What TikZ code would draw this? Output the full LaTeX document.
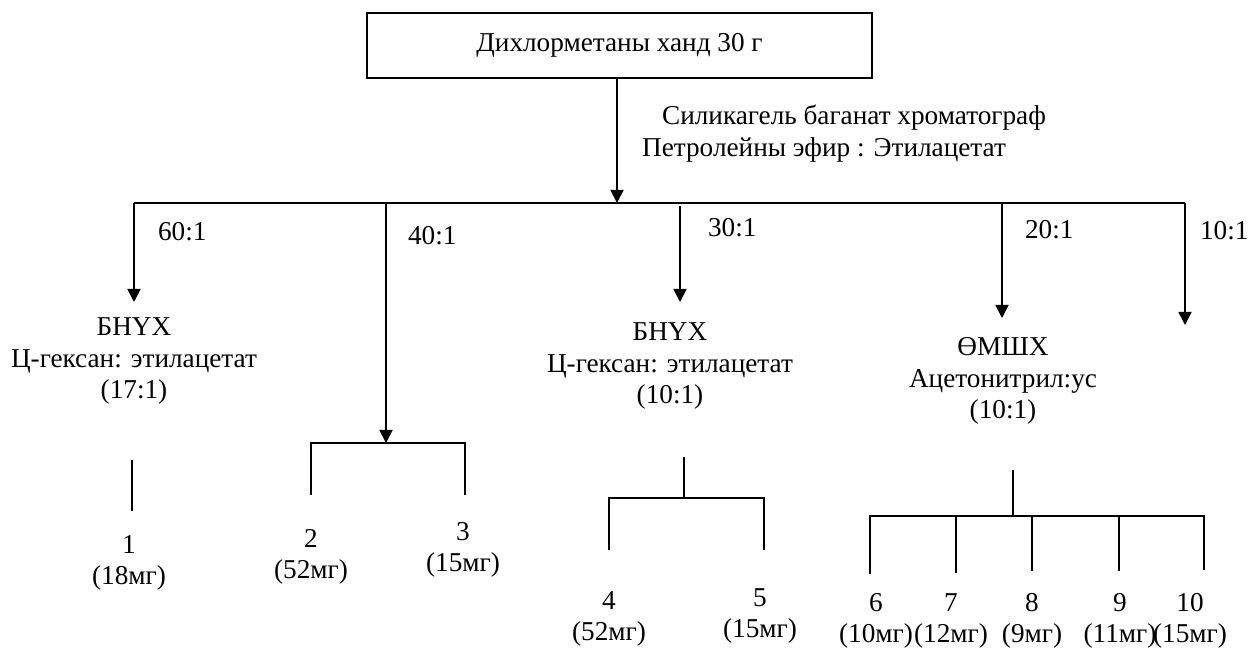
\documentclass[tikz,border=0pt]{standalone}
\usepackage{fontspec}
\setmainfont{Liberation Serif}
\usetikzlibrary{positioning, arrows.meta}

\begin{document}
\begin{tikzpicture}[x=0.02cm, y=-0.02cm,
				txt/.style={font=\fontsize{15.5}{18}\selectfont, inner sep=1pt},
				grp/.style={txt, align=center},
				box/.style={txt, draw, line width=1pt, minimum width=10.1cm, minimum height=1.3cm},
				ln/.style={draw, line width=1pt},
				arr/.style={ln, -{Triangle[width=7.5pt, length=7.5pt]}},
				]
				
				\useasboundingbox (0,0) rectangle (1251,648);
				
				%% ── Source and column ──────────────────────────────────────────────
				\node[box] (src) at (619.5,45.5) {Дихлорметаны ханд 30 г};
				\coordinate (hub) at (617,203);
				\draw[arr] (src.south -| hub) -- (hub);
				
				\node[txt, anchor=west] (col1) at (660,118) {Силикагель баганат хроматограф};
				\node[txt, anchor=west] (col2) at (640,150) {Петролейны эфир : Этилацетат};
				
				%% ── Elution branches ───────────────────────────────────────────────
				\coordinate (b1) at (134,203);
				\coordinate (b2) at (386,203);
				\coordinate (b3) at (680,206);
				\coordinate (b4) at (1002,203);
				\coordinate (b5) at (1185,203);
				\draw[ln] (b1) -- (b5);
				
				\coordinate (t1) at (134,302);
				\coordinate (k2) at (386,443);
				\coordinate (t3) at (680,302);
				\coordinate (t4) at (1002,318);
				\coordinate (t5) at (1185,325);
				
				\draw[arr] (b1) -- (t1);
				\draw[arr] (b2) -- (k2);
				\draw[arr] (b3) -- (t3);
				\draw[arr] (b4) -- (t4);
				\draw[arr] (b5) -- (t5);
				
				\node[txt, anchor=west] (r1) at (156,232)  {60:1};
				\node[txt, anchor=west] (r2) at (406,236)  {40:1};
				\node[txt, anchor=west] (r3) at (706,228)  {30:1};
				\node[txt, anchor=west] (r4) at (1023,230) {20:1};
				\node[txt, anchor=west] (r5) at (1198,231) {10:1};
				
				%% ── Second separations ─────────────────────────────────────────────
				\node[grp] (g1) at (134,361)  {БНҮХ\\Ц-гексан: этилацетат\\(17:1)};
				\node[grp] (g3) at (670,366)  {БНҮХ\\Ц-гексан: этилацетат\\(10:1)};
				\node[grp] (g4) at (1003,381) {ӨМШХ\\Ацетонитрил:ус\\(10:1)};
				
				%% ── Fractions ──────────────────────────────────────────────────────
				\node[grp] (f1)  at (129,563)  {1\\(18мг)};
				\node[grp] (f2)  at (311,557)  {2\\(52мг)};
				\node[grp] (f3)  at (463,550)  {3\\(15мг)};
				\node[grp] (f4)  at (609,619)  {4\\(52мг)};
				\node[grp] (f5)  at (760,616)  {5\\(15мг)};
				\node[grp] (f6)  at (876,621)  {6\\(10мг)};
				\node[grp] (f7)  at (951,621)  {7\\(12мг)};
				\node[grp] (f8)  at (1032,621) {8\\(9мг)};
				\node[grp] (f9)  at (1120,621) {9\\(11мг)};
				\node[grp] (f10) at (1190,621) {10\\(15мг)};
				
				%% fraction 1
				\coordinate (s1) at (132,460);
				\coordinate (e1) at (132,511);
				\draw[ln] (s1) -- (e1);
				
				%% fractions 2, 3
				\coordinate (d2) at (311,495);
				\coordinate (d3) at (465,495);
				\draw[ln] (d2) |- (d3 |- k2) -- (d3);
				
				%% fractions 4, 5
				\coordinate (s3) at (684,457);
				\coordinate (k3) at (684,498);
				\coordinate (d4) at (609,550);
				\coordinate (d5) at (764,550);
				\draw[ln] (s3) -- (k3);
				\draw[ln] (d4) |- (d5 |- k3) -- (d5);
				
				%% fractions 6--10
				\coordinate (s4) at (1013,470);
				\coordinate (k4) at (1013,516);
				\coordinate (d6)  at (870,574);
				\coordinate (d7)  at (956,573);
				\coordinate (d8)  at (1032,571);
				\coordinate (d9)  at (1119,571);
				\coordinate (d10) at (1204,570);
				\draw[ln] (s4) -- (k4);
				\draw[ln] (d6) |- (d10 |- k4) -- (d10);
				\foreach \d in {d7, d8, d9}
				\draw[ln] (\d |- k4) -- (\d);
				
			\end{tikzpicture}
\end{document}
